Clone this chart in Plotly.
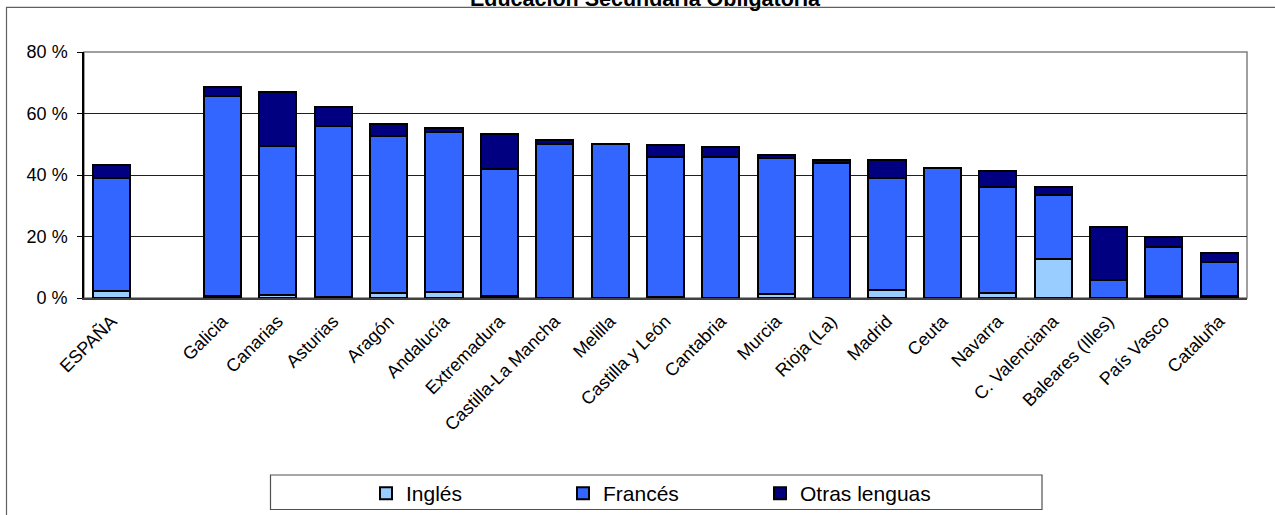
import plotly.graph_objects as go

categories = ["ESPAÑA", " ", "Galicia", "Canarias", "Asturias", "Aragón", "Andalucía",
              "Extremadura", "Castilla-La Mancha", "Melilla", "Castilla y León", "Cantabria",
              "Murcia", "Rioja (La)", "Madrid", "Ceuta", "Navarra", "C. Valenciana",
              "Baleares (Illes)", "País Vasco", "Cataluña"]
ingles = [2.2, None, 0.5, 1.0, 0.2, 1.6, 2.0, 0.5, 0.1, 0.0, 0.3, 0.1, 1.3, 0.1, 2.5, 0.0,
          1.6, 12.8, 0.1, 0.5, 0.8]
frances = [36.8, None, 65.1, 48.3, 55.6, 51.0, 52.0, 41.5, 50.1, 50.0, 45.4, 45.6, 44.2, 43.8,
           36.5, 42.3, 34.4, 20.8, 5.6, 16.1, 10.8]
otras = [4.3, None, 3.0, 17.7, 6.3, 4.1, 1.3, 11.3, 1.1, 0.1, 4.1, 3.5, 1.0, 1.1, 5.8, 0.0,
         5.4, 2.5, 17.4, 3.4, 3.0]
series_names = ["Inglés", "Francés", "Otras lenguas"]
series_colors = ["#99CCFF", "#3366FF", "#000080"]
y_ticks = [0, 20, 40, 60, 80]
y_tick_labels = ["0 %", "20 %", "40 %", "60 %", "80 %"]

W, H = 1275, 515
L, R, T, B = 84, 28, 52, 217
pw, ph = W - L - R, H - T - B

def px_x(p):
    return (p - L) / pw

def px_y(p):
    return 1 - (p - T) / ph

fig = go.Figure()
for name, vals, col in zip(series_names, [ingles, frances, otras], series_colors):
    fig.add_trace(go.Bar(x=categories, y=vals, name=name,
                         marker=dict(color=col, line=dict(color="black", width=2))))

FONT = "Liberation Sans, Arial, sans-serif"
fig.update_layout(
    width=W, height=H,
    margin=dict(l=L, r=R, t=T, b=B, pad=0, autoexpand=False),
    barmode="stack", bargap=0.33,
    paper_bgcolor="white", plot_bgcolor="white",
    font=dict(family=FONT, size=18, color="black"),
    showlegend=True,
    legend=dict(orientation="h", x=px_x(366), y=px_y(473), xanchor="left", yanchor="top",
                font=dict(size=21, family=FONT), entrywidth=152, entrywidthmode="pixels",
                bgcolor="rgba(0,0,0,0)", borderwidth=0, traceorder="normal"),
    xaxis=dict(type="category", tickangle=-45, showline=True, linecolor="#404040", linewidth=1.5,
               ticks="", tickfont=dict(size=18), showgrid=False, zeroline=False,
               ticklabelstandoff=4),
    yaxis=dict(range=[0, 80], tickvals=y_ticks, ticktext=y_tick_labels, showline=True,
               linecolor="black", linewidth=1.5, ticks="outside", ticklen=5, tickcolor="black",
               showgrid=True, gridcolor="#202020", gridwidth=1, zeroline=False,
               tickfont=dict(size=18), ticklabelstandoff=6),
)

# plot area border (top/right in gray)
fig.add_shape(type="rect", xref="paper", yref="paper", x0=0, x1=1, y0=0, y1=1,
              line=dict(color="#808080", width=1.5), layer="below")
# outer chart border (only left and top edges lie inside the picture)
fig.add_shape(type="rect", xref="paper", yref="paper", x0=px_x(6.5), x1=px_x(1500),
              y0=px_y(800), y1=px_y(7.3), line=dict(color="#606060", width=1.2))
# legend box
fig.add_shape(type="rect", xref="paper", yref="paper", x0=px_x(270.5), x1=px_x(1042),
              y0=px_y(509.5), y1=px_y(475), line=dict(color="#505050", width=1.2))

fig.add_annotation(text="<b>Educación Secundaria Obligatoria</b>", xref="paper", yref="paper",
                   x=px_x(645), y=px_y(-1), xanchor="center", yanchor="middle",
                   showarrow=False, font=dict(size=21.5, family=FONT))

fig.write_html("out.html", config={"displayModeBar": False},
               post_script="document.body.style.margin='0';")
